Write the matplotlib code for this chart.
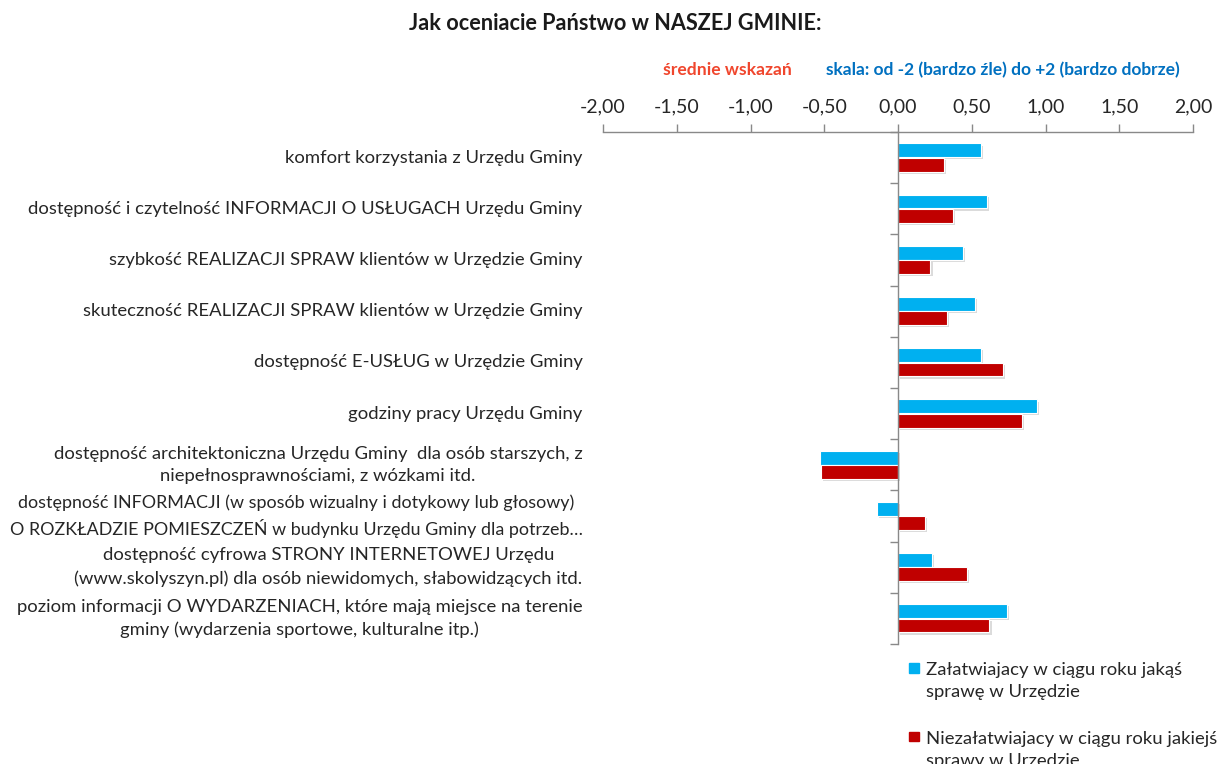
import matplotlib.pyplot as plt
import matplotlib.patheffects as pe
from matplotlib.patches import Rectangle, Patch
from matplotlib.legend_handler import HandlerPatch
from matplotlib.ticker import FuncFormatter, FixedLocator
from matplotlib.transforms import blended_transform_factory
import numpy as np

plt.rcParams['font.family'] = ['Lato', 'DejaVu Sans']

categories = [
    'komfort korzystania z Urzędu Gminy',
    'dostępność i czytelność INFORMACJI O USŁUGACH Urzędu Gminy',
    'szybkość REALIZACJI SPRAW klientów w Urzędzie Gminy',
    'skuteczność REALIZACJI SPRAW klientów w Urzędzie Gminy',
    'dostępność E-USŁUG w Urzędzie Gminy',
    'godziny pracy Urzędu Gminy',
    'dostępność architektoniczna Urzędu Gminy  dla osób starszych, z\nniepełnosprawnościami, z wózkami itd.',
    'dostępność INFORMACJI (w sposób wizualny i dotykowy lub głosowy)\nO ROZKŁADZIE POMIESZCZEŃ w budynku Urzędu Gminy dla potrzeb…',
    'dostępność cyfrowa STRONY INTERNETOWEJ Urzędu\n(www.skolyszyn.pl) dla osób niewidomych, słabowidzących itd.',
    'poziom informacji O WYDARZENIACH, które mają miejsce na terenie\ngminy (wydarzenia sportowe, kulturalne itp.)',
]
zalatwiajacy = [0.56, 0.60, 0.44, 0.52, 0.56, 0.94, -0.53, -0.14, 0.23, 0.74]
niezalatwiajacy = [0.31, 0.37, 0.22, 0.33, 0.71, 0.84, -0.52, 0.18, 0.47, 0.62]
series_names = ['Załatwiajacy w ciągu roku jakąś\nsprawę w Urzędzie',
                'Niezałatwiajacy w ciągu roku jakiejś\nsprawy w Urzędzie']
xticks = [-2, -1.5, -1, -0.5, 0, 0.5, 1, 1.5, 2]

blue = '#00B0F0'
red = '#C00000'
grey = '#898989'
txt = '#262626'
fs = 13.3

fig = plt.figure(figsize=(12.2, 7.64), dpi=100)
ax = fig.add_axes([0.4943, 0.1571, 0.4836, 0.6702])

y = np.arange(len(categories))
h = 0.27
shadow = [pe.SimplePatchShadow(offset=(1.5, -1.5), shadow_rgbFace='#999999', alpha=0.35), pe.Normal()]
b1 = ax.barh(y - 0.14, zalatwiajacy, height=h, color=blue, edgecolor='white', linewidth=0.8)
b2 = ax.barh(y + 0.14, niezalatwiajacy, height=h, color=red, edgecolor='white', linewidth=0.8)
for bar in list(b1) + list(b2):
    bar.set_path_effects(shadow)

ax.set_xlim(-2, 2)
ax.set_ylim(len(categories) - 0.5, -0.5)

# x axis on top
ax.xaxis.set_ticks_position('top')
ax.xaxis.set_major_locator(FixedLocator(xticks))
ax.xaxis.set_major_formatter(FuncFormatter(lambda v, p: f'{v:.2f}'.replace('.', ',')))
ax.tick_params(axis='x', direction='out', length=6, width=1, color=grey, labelsize=14,
               labelcolor=txt, pad=6)

# category axis crossing at zero
ax.spines['left'].set_position(('data', 0))
for s in ['right', 'bottom']:
    ax.spines[s].set_visible(False)
for s in ['left', 'top']:
    ax.spines[s].set_color(grey)
    ax.spines[s].set_linewidth(1)
ax.yaxis.set_major_locator(FixedLocator(np.arange(len(categories) + 1) - 0.5))
ax.tick_params(axis='y', direction='out', length=6, width=1, color=grey, labelleft=False)

tr = blended_transform_factory(ax.transAxes, ax.transData)
labels = []
for i, c in enumerate(categories):
    labels.append(ax.text(-0.035, i, c, transform=tr, ha='right', va='center',
                          multialignment='center', fontsize=fs, color=txt, linespacing=1.5))

# shrink a label that would run off the left edge
fig.canvas.draw()
r = fig.canvas.get_renderer()
for t in labels:
    bb = t.get_window_extent(r)
    if bb.x0 < 6:
        t.set_fontsize(fs * (bb.x1 - 6) / bb.width)

fig.text(0.504, 0.969, 'Jak oceniacie Państwo w NASZEJ GMINIE:', ha='center', va='center',
         fontsize=15.6, fontweight='bold', color='#1a1a1a')
fig.text(0.5434, 0.908, 'średnie wskazań', ha='left', va='center', fontsize=12.6,
         fontweight='bold', color='#F0462D')
fig.text(0.677, 0.908, 'skala: od -2 (bardzo źle) do +2 (bardzo dobrze)', ha='left',
         va='center', fontsize=12.5, fontweight='bold', color='#0070C0')


def top_square(legend, orig_handle, xdescent, ydescent, width, height, fontsize):
    s = 0.52 * fontsize
    return Rectangle((-xdescent, -ydescent + height + 0.18 * fontsize), s, s)


handles = [Patch(color=blue), Patch(color=red)]
leg = fig.legend(handles=handles, labels=series_names, loc='upper left',
                 bbox_to_anchor=(0.745, 0.133), frameon=False, fontsize=fs,
                 handlelength=0.52, handleheight=0.52, handletextpad=0.4, labelspacing=1.68,
                 borderaxespad=0, borderpad=0,
                 handler_map={Patch: HandlerPatch(patch_func=top_square)})
for t in leg.get_texts():
    t.set_color(txt)
    t.set_linespacing(1.45)

fig.savefig('out.png', dpi=100)
